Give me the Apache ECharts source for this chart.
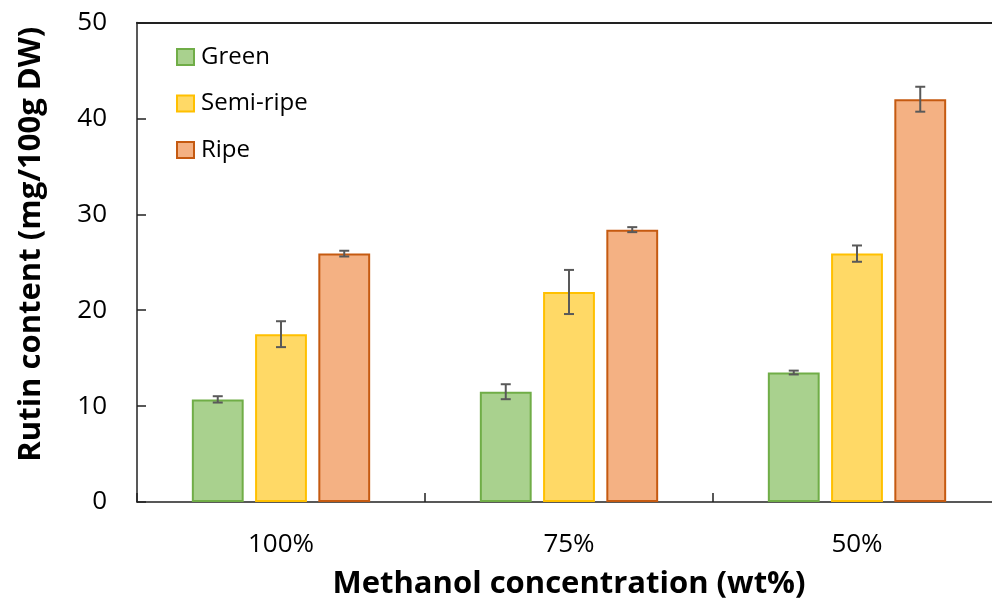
<!DOCTYPE html>
<html>
<head>
<meta charset="utf-8">
<script src="https://cdn.jsdelivr.net/npm/echarts@6/dist/echarts.min.js"></script>
<style>html,body{margin:0;padding:0;background:#fff;overflow:hidden;width:992px;height:610px;}#c{width:1001px;height:610px;}</style>
</head>
<body>
<div id="c"></div>
<script>
const categories = ['100%', '75%', '50%'];
const seriesNames = ['Green', 'Semi-ripe', 'Ripe'];
const greenValues = [10.7, 11.5, 13.5];
const semiValues = [17.5, 21.9, 25.9];
const ripeValues = [25.9, 28.4, 42.0];
const greenErr = [0.33, 0.78, 0.2];
const semiErr = [1.35, 2.3, 0.85];
const ripeErr = [0.3, 0.26, 1.3];
const yTicks = [0, 10, 20, 30, 40, 50];

const values = [greenValues, semiValues, ripeValues];
const errs = [greenErr, semiErr, ripeErr];
const fills = ['#A9D18E', '#FFD966', '#F4B183'];
const borders = ['#70AD47', '#FFC000', '#C55A11'];
const FONT = 'Open Sans';
const BAR_W = 0.18, BAR_GAP = 0.22;

const chart = echarts.init(document.getElementById('c'));
const series = [];
values.forEach((vals, i) => {
  series.push({
    name: seriesNames[i], type: 'bar', data: vals,
    barWidth: (BAR_W * 100) + '%', barGap: (BAR_GAP * 100) + '%',
    itemStyle: { color: fills[i], borderColor: borders[i], borderWidth: 2 },
    xAxisIndex: 0, yAxisIndex: 0, z: 2
  });
});
values.forEach((vals, i) => {
  series.push({
    type: 'custom', xAxisIndex: 0, yAxisIndex: 0, z: 5, silent: true,
    data: vals.map((v, k) => [k, v - errs[i][k], v + errs[i][k]]),
    renderItem: function (params, api) {
      const band = api.size([1, 0])[0];
      const off = (i - 1) * band * BAR_W * (1 + BAR_GAP);
      const lo = api.coord([api.value(0), api.value(1)]);
      const hi = api.coord([api.value(0), api.value(2)]);
      const x = lo[0] + off, hw = 5;
      const st = { stroke: '#595959', lineWidth: 2 };
      return { type: 'group', children: [
        { type: 'line', shape: { x1: x, y1: lo[1], x2: x, y2: hi[1] }, style: st },
        { type: 'line', shape: { x1: x - hw, y1: lo[1], x2: x + hw, y2: lo[1] }, style: st },
        { type: 'line', shape: { x1: x - hw, y1: hi[1], x2: x + hw, y2: hi[1] }, style: st }
      ]};
    }
  });
});

chart.setOption({
  animation: false,
  backgroundColor: '#fff',
  textStyle: { fontFamily: FONT },
  grid: { left: 137, top: 22.5, right: 0, bottom: 108, containLabel: false },
  legend: {
    data: seriesNames, orient: 'vertical', left: 176, top: 45, padding: 0,
    itemWidth: 17, itemHeight: 16, itemGap: 22.5,
    textStyle: { fontFamily: FONT, fontSize: 24, color: '#000', padding: [0, 0, 0, 2] },
    icon: 'rect'
  },
  xAxis: [{
    type: 'category', data: categories, position: 'bottom',
    axisLine: { lineStyle: { color: '#222', width: 1.5 } },
    axisTick: { show: true, inside: true, length: 9, interval: 0, lineStyle: { color: '#222', width: 1.5 } },
    axisLabel: { fontFamily: FONT, fontSize: 26, color: '#000', margin: 30 },
    name: 'Methanol concentration (wt%)', nameLocation: 'middle', nameGap: 67,
    nameTextStyle: { fontFamily: FONT, fontSize: 31, fontWeight: 'bold', color: '#000' }
  }, {
    type: 'category', data: categories, position: 'top',
    axisLine: { show: true, lineStyle: { color: '#222', width: 2 } },
    axisTick: { show: false }, axisLabel: { show: false }
  }],
  yAxis: {
    type: 'value', min: yTicks[0], max: yTicks[yTicks.length - 1], interval: 10,
    splitLine: { show: false },
    axisLine: { show: true, lineStyle: { color: '#222', width: 1.5 } },
    axisTick: { show: true, inside: true, length: 9, lineStyle: { color: '#222', width: 1.5 } },
    axisLabel: { fontFamily: FONT, fontSize: 26, color: '#000', margin: 30 },
    name: 'Rutin content (mg/100g DW)', nameLocation: 'middle', nameGap: 90, nameRotate: 90,
    nameTextStyle: { fontFamily: FONT, fontSize: 31, fontWeight: 'bold', color: '#000', padding: [0, 0, 0, 36] }
  },
  series: series
});
</script>
</body>
</html>
